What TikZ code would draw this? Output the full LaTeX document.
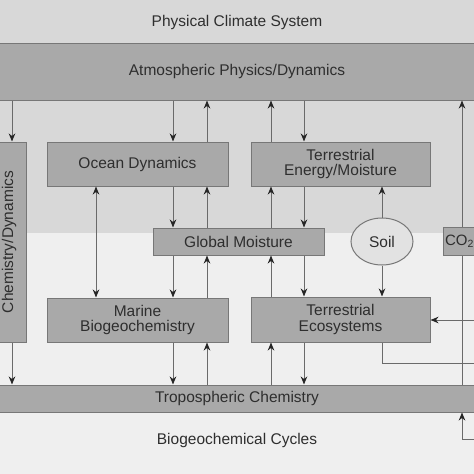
\documentclass[tikz,border=0pt]{standalone}
\usepackage{fontspec}
\setmainfont{Liberation Sans}
\usepackage{graphicx}
\usetikzlibrary{arrows.meta,shapes.geometric}
\definecolor{bgtop}{HTML}{D8D8D8}
\definecolor{bgbot}{HTML}{EFEFEF}
\definecolor{boxfill}{HTML}{A9A9A9}
\definecolor{boxline}{HTML}{777777}
\definecolor{linec}{HTML}{6A6A6A}
\definecolor{tipc}{HTML}{262626}
\definecolor{txt}{HTML}{2E2E2E}
\definecolor{soilfill}{HTML}{E2E2E2}
\begin{document}
\begin{tikzpicture}[x=1pt,y=-1pt,
  box/.style={draw=boxline, fill=boxfill, line width=1pt, text=txt,
    font=\fontsize{15.5}{15.5}\selectfont, align=center, inner sep=0pt},
  lbl/.style={text=txt, font=\fontsize{15.5}{15.5}\selectfont, inner sep=0pt},
  conn/.style={draw=linec, line width=1pt},
  arr/.style={conn, -{Stealth[length=8pt,width=6.5pt,inset=2.5pt,color=tipc]}},
  dbl/.style={conn, {Stealth[length=8pt,width=6.5pt,inset=2.5pt,color=tipc]}-{Stealth[length=8pt,width=6.5pt,inset=2.5pt,color=tipc]}}]
\useasboundingbox (0,0) rectangle (474,474);
\clip (0,0) rectangle (474,474);
% background
\fill[bgtop] (0,0) rectangle (474,233);
\fill[bgbot] (0,233) rectangle (474,474);
% bands and labels
\node[lbl] (pcs) at (237,22) {Physical Climate System};
\node[box, minimum width=484pt, minimum height=57pt] (atm) at (237,71.5) {Atmospheric Physics/Dynamics};
\node[box, minimum width=484pt, minimum height=27pt] (trop) at (237,398.5) {Tropospheric Chemistry};
\node[lbl] (bgc) at (237,440) {Biogeochemical Cycles};
% boxes
\node[box, minimum width=40pt, minimum height=200pt] (strat) at (6,242) {};
\node[lbl] (stratlbl) at (strat.center -| 9,0) {\rotatebox{90}{Chemistry/Dynamics}};
\node[box, minimum width=181pt, minimum height=44pt] (ocean) at (137.5,164) {Ocean Dynamics};
\node[box, minimum width=179pt, minimum height=44pt] (ten) at (340.5,164) {Terrestrial\\Energy/Moisture};
\node[box, minimum width=171pt, minimum height=27pt] (gm) at (238.5,241.5) {Global Moisture};
\node[box, minimum width=181pt, minimum height=44pt] (marine) at (137.5,320) {Marine\\Biogeochemistry};
\node[box, minimum width=179pt, minimum height=45pt] (teco) at (340.5,319.5) {Terrestrial\\Ecosystems};
\node[box, ellipse, fill=soilfill, minimum width=62pt, minimum height=47pt] (soil) at (382,241.5) {Soil};
\node[box, minimum height=28pt, text width=54pt, align=left, inner xsep=1.5pt, anchor=west,
  font=\fontsize{15}{15}\selectfont] (co2) at (443,241) {CO\textsubscript{2}};
% columns
\coordinate (c0) at (12,0);
\coordinate (c1) at (96,0);
\coordinate (c2) at (173,0);
\coordinate (c3) at (207,0);
\coordinate (c4) at (271,0);
\coordinate (c5) at (304,0);
\coordinate (c6) at (382,0);
\coordinate (c7) at (462,0);
\coordinate (r1) at (480,320);
\coordinate (r2) at (480,363);
\coordinate (r3) at (480,439);
% left column
\draw[arr] (atm.south -| c0) -- (strat.north -| c0);
\draw[arr] (strat.south -| c0) -- (trop.north -| c0);
% ocean / marine
\draw[arr] (atm.south -| c2) -- (ocean.north -| c2);
\draw[arr] (ocean.north -| c3) -- (atm.south -| c3);
\draw[arr] (ocean.south -| c2) -- (gm.north -| c2);
\draw[arr] (gm.north -| c3) -- (ocean.south -| c3);
\draw[dbl] (ocean.south -| c1) -- (marine.north -| c1);
\draw[arr] (gm.south -| c2) -- (marine.north -| c2);
\draw[arr] (marine.north -| c3) -- (gm.south -| c3);
\draw[arr] (marine.south -| c2) -- (trop.north -| c2);
\draw[arr] (trop.north -| c3) -- (marine.south -| c3);
% terrestrial
\draw[arr] (ten.north -| c4) -- (atm.south -| c4);
\draw[arr] (atm.south -| c5) -- (ten.north -| c5);
\draw[arr] (gm.north -| c4) -- (ten.south -| c4);
\draw[arr] (ten.south -| c5) -- (gm.north -| c5);
\draw[arr] (soil.north) -- (ten.south -| c6);
\draw[arr] (teco.north -| c4) -- (gm.south -| c4);
\draw[arr] (gm.south -| c5) -- (teco.north -| c5);
\draw[arr] (soil.south) -- (teco.north -| c6);
\draw[arr] (trop.north -| c4) -- (teco.south -| c4);
\draw[arr] (teco.south -| c5) -- (trop.north -| c5);
% CO2 and right side
\draw[arr] (co2.north -| c7) -- (atm.south -| c7);
\draw[conn] (co2.south -| c7) -- (trop.north -| c7);
\draw[arr] (r1) -- (teco.east |- r1);
\draw[conn] (teco.south -| c6) |- (r2);
\draw[arr] (r3) -| (trop.south -| c7);
\end{tikzpicture}
\end{document}
